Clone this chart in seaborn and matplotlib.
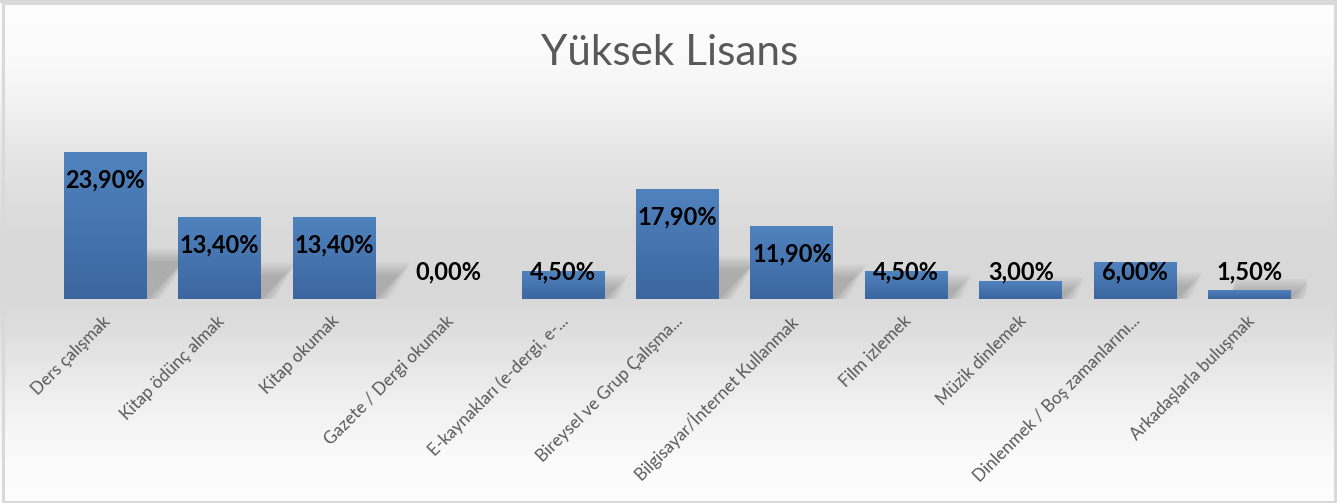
import numpy as np
import pandas as pd
import matplotlib
matplotlib.use("Agg")
import matplotlib.pyplot as plt
import matplotlib.transforms as mtransforms
from matplotlib.patches import Polygon, Rectangle
import seaborn as sns

# ---------------- data ----------------
categories = [
    "Ders çalışmak",
    "Kitap ödünç almak",
    "Kitap okumak",
    "Gazete / Dergi okumak",
    "E-kaynakları (e-dergi, e-...",
    "Bireysel ve Grup Çalışma...",
    "Bilgisayar/İnternet Kullanmak",
    "Film izlemek",
    "Müzik dinlemek",
    "Dinlenmek / Boş zamanlarını...",
    "Arkadaşlarla buluşmak",
]
values = [23.9, 13.4, 13.4, 0.0, 4.5, 17.9, 11.9, 4.5, 3.0, 6.0, 1.5]
title = "Yüksek Lisans"

df = pd.DataFrame({"kategori": categories, "oran": values})

# ---------------- style ----------------
sns.set_style("white")
plt.rcParams["font.family"] = ["Lato", "DejaVu Sans"]

W, H = 1337, 503
fig = plt.figure(figsize=(W / 100, H / 100), dpi=100)

# background gradient (whole chart area)
bg = fig.add_axes([0, 0, 1, 1], zorder=0)
bg.axis("off")
ys = np.array([0, 50, 100, 160, 230, 290, 330, 400, 460, 503])
lv = np.array([253, 251, 243, 228, 218, 216, 222, 240, 251, 253]) / 255.0
rows = np.interp(np.arange(H), ys, lv)
grad = np.repeat(rows[:, None], 2, axis=1)
bg.imshow(np.dstack([grad, grad, grad]), aspect="auto", extent=[0, 1, 0, 1],
          origin="upper", interpolation="bilinear")
bg.set_xlim(0, 1)
bg.set_ylim(0, 1)
# chart border
bg.add_patch(Rectangle((2.5 / W, 1.5 / H), (W - 5) / W, (H - 4) / H,
                       transform=bg.transAxes, fill=False,
                       edgecolor="#d9d9d9", linewidth=2.2, zorder=5))
bg.add_patch(Rectangle((0, (H - 3) / H), 1, 3 / H, transform=bg.transAxes,
                       facecolor="#d9d9d9", edgecolor="none", zorder=5))

# title
fig.text(670 / W, 1 - 53 / H, title, ha="center", va="center",
         fontsize=30.4, color="#595959", zorder=10)

# main axes
ax = fig.add_axes([48 / W, 204 / H, 1259 / W, 184.5 / H], zorder=2)
ax.patch.set_alpha(0)
sns.barplot(data=df, x="kategori", y="oran", ax=ax, color="#4f81bd",
            width=0.725, saturation=1, edgecolor="none", zorder=3)
ax.set_xlim(-0.5, len(categories) - 0.5)
ax.set_ylim(0, 30)

# gradient fill for bars + soft perspective shadow
bar_grad = np.linspace(0, 1, 64)[:, None]
top_c = np.array([80, 131, 190]) / 255.0
bot_c = np.array([60, 102, 160]) / 255.0
bar_img = top_c[None, None, :] * (1 - bar_grad[:, :, None]) + bot_c[None, None, :] * bar_grad[:, :, None]

px_x = 1259 / len(categories)  # pixels per x unit
px_y = 184.5 / 30.0            # pixels per y unit
for p in list(ax.patches):
    x0, w, h = p.get_x(), p.get_width(), p.get_height()
    if h <= 0:
        continue
    hp = h * px_y
    sh_px = 0.22 * hp + 5
    dx = sh_px * 0.95 / px_x
    sh = sh_px / px_y
    for k in range(7):
        g = k * 2.2
        gx, gy = g / px_x, g / px_y
        poly = Polygon([(x0 + 0.25 * w, 0), (x0 + w + gx, 0),
                        (x0 + w + dx + gx, sh + gy), (x0 + 0.25 * w + dx, sh + gy)],
                       closed=True, facecolor="#555555", edgecolor="none",
                       alpha=0.05, zorder=1)
        ax.add_patch(poly)
    im = ax.imshow(bar_img, extent=[x0, x0 + w, 0, h], aspect="auto",
                   origin="upper", zorder=3.5, interpolation="bilinear")
    im.set_clip_path(p)

ax.set_xlim(-0.5, len(categories) - 0.5)
ax.set_ylim(0, 30)

# value labels (inside end, kept above the baseline for short bars)
for i, v in enumerate(values):
    yl = max(v - 28 / px_y, 27 / px_y)
    ax.text(i, yl, f"{v:.2f}".replace(".", ",") + "%", ha="center", va="center",
            fontsize=17, fontweight="bold", color="#000000", zorder=6)

# axes cosmetics
for s in ax.spines.values():
    s.set_visible(False)
ax.set_yticks([])
ax.set_xlabel("")
ax.set_ylabel("")
ax.tick_params(axis="x", length=0, pad=10)
ax.set_xticks(range(len(categories)))
ax.set_xticklabels(categories, rotation=45, ha="right", va="top",
                   rotation_mode="anchor", fontsize=12.3, color="#595959")
off = mtransforms.ScaledTranslation(-3 / 100, 0, fig.dpi_scale_trans)
for lab in ax.get_xticklabels():
    lab.set_transform(lab.get_transform() + off)

fig.savefig("out.png", dpi=100)
